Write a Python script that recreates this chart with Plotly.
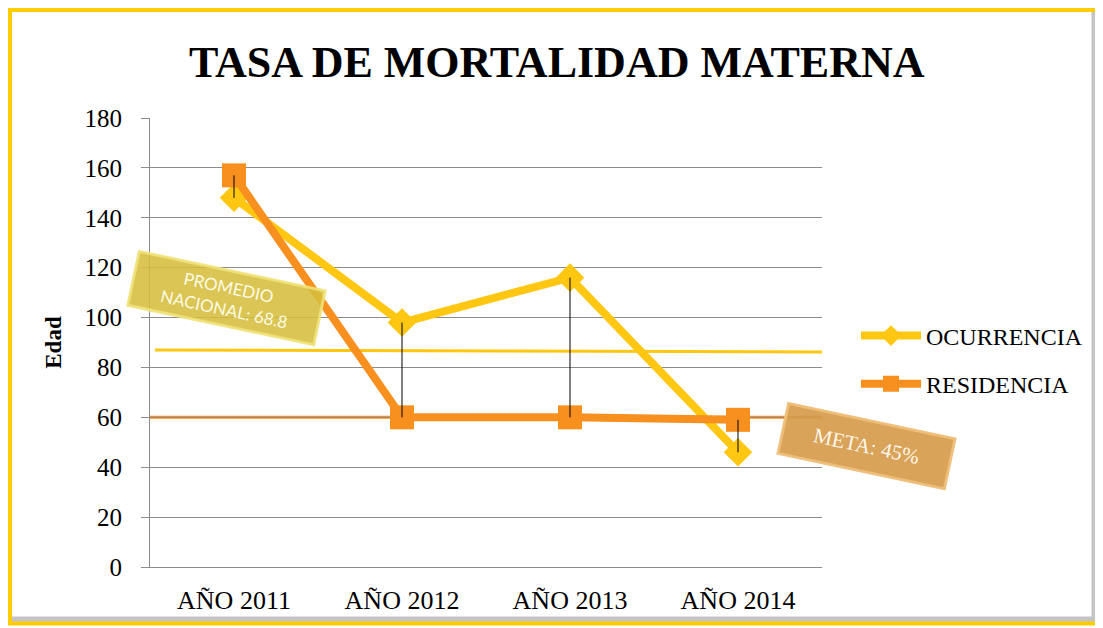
import plotly.graph_objects as go

categories = ["AÑO 2011", "AÑO 2012", "AÑO 2013", "AÑO 2014"]
ocurrencia = [148, 98, 116, 46]
residencia = [157, 60, 60, 59]
promedio_line = [87, 86.2]
meta_line = [60, 60]
y_ticks = [0, 20, 40, 60, 80, 100, 120, 140, 160, 180]

YELLOW = "#FFC711"
ORANGE = "#F7901E"
SERIF = "Liberation Serif"

# screen geometry (page body has an 8px margin)
OFF = 8
W, H = 1103, 628
L, R, T, B = 150, 281, 118, 61
pw, ph = W - L - R, H - T - B


def px(x):
    return (x - L) / pw


def py(y):
    return (H - B - y) / ph


fig = go.Figure()

dx, dy = [], []
for c, a, b in zip(categories, ocurrencia, residencia):
    dx += [c, c, None]
    dy += [a, b, None]

fig.add_trace(go.Scatter(x=categories, y=ocurrencia, name="OCURRENCIA", mode="lines+markers",
                         line=dict(color=YELLOW, width=8),
                         marker=dict(symbol="diamond", size=22, color=YELLOW),
                         legendgroup="a"))
fig.add_trace(go.Scatter(x=categories, y=residencia, name="RESIDENCIA", mode="lines+markers",
                         line=dict(color=ORANGE, width=8),
                         marker=dict(symbol="square", size=24, color=ORANGE),
                         legendgroup="b"))
fig.add_trace(go.Scatter(x=dx, y=dy, mode="lines", line=dict(color="black", width=1),
                         showlegend=False, hoverinfo="skip"))

shapes = [
    dict(type="line", xref="x", yref="y", x0=-0.47, x1=3.5, y0=promedio_line[0], y1=promedio_line[1],
         line=dict(color=YELLOW, width=3), layer="below"),
    dict(type="line", xref="x", yref="y", x0=-0.5, x1=3.5, y0=meta_line[0], y1=meta_line[1],
         line=dict(color=ORANGE, width=3), layer="below"),
    dict(type="rect", xref="paper", yref="paper", x0=px(9.5), x1=px(1099), y0=py(9.5), y1=py(623),
         line=dict(color="#FFCC00", width=5), layer="below"),
    dict(type="line", xref="paper", yref="paper", x0=px(1094), x1=px(1094), y0=py(12), y1=py(620),
         line=dict(color="#C4C4C4", width=5), layer="below"),
    dict(type="line", xref="paper", yref="paper", x0=px(12), x1=px(1096), y0=py(619), y1=py(619),
         line=dict(color="#C4C4C4", width=5), layer="below"),
]

annotations = [
    dict(text="TASA DE MORTALIDAD MATERNA", xref="paper", yref="paper", x=px(557), y=py(62),
         xanchor="center", yanchor="middle",
         showarrow=False, font=dict(family=SERIF, size=44, color="black", weight="bold")),
    dict(text="PROMEDIO<br>NACIONAL: 68.8", xref="paper", yref="paper", x=px(226), y=py(298),
         xanchor="center", yanchor="middle",
         showarrow=False, textangle=12, width=185, height=50,
         bgcolor="rgba(214,190,62,0.88)", bordercolor="rgba(240,225,120,0.9)", borderwidth=3,
         font=dict(family="Lato", size=17, color="rgba(255,255,240,0.95)")),
    dict(text="META: 45%", xref="paper", yref="paper", x=px(866), y=py(446),
         xanchor="center", yanchor="middle",
         showarrow=False, textangle=12, width=165, height=46,
         bgcolor="rgba(214,155,75,0.92)", bordercolor="rgba(238,190,120,0.95)", borderwidth=3,
         font=dict(family=SERIF, size=21, color="rgba(255,250,240,0.97)")),
]

fig.update_layout(
    width=W - OFF, height=H - OFF,
    margin=dict(l=L - OFF, r=R, t=T - OFF, b=B),
    paper_bgcolor="white", plot_bgcolor="white",
    showlegend=True,
    legend=dict(x=px(856), y=py(360), xanchor="left", yanchor="middle",
                font=dict(family=SERIF, size=24, color="black"),
                tracegroupgap=14, itemwidth=60, bgcolor="rgba(0,0,0,0)"),
    shapes=shapes,
    annotations=annotations,
    xaxis=dict(type="category", categoryorder="array", categoryarray=categories,
               range=[-0.5, 3.5], showgrid=False, showline=True, linecolor="#8C8C8C", linewidth=1,
               tickfont=dict(family=SERIF, size=26, color="black"), ticks="", ticklen=0,
               ticklabelstandoff=10),
    yaxis=dict(range=[0, 180], tickvals=y_ticks, showgrid=True, gridcolor="#8C8C8C", gridwidth=1,
               showline=True, linecolor="#8C8C8C", linewidth=1, ticks="outside", ticklen=8,
               tickcolor="#8C8C8C", zeroline=False, ticklabelstandoff=14,
               tickfont=dict(family=SERIF, size=25, color="black"),
               title=dict(text="<b>Edad</b>", font=dict(family=SERIF, size=23, color="black"), standoff=16)),
)

fig.write_html("out.html")
